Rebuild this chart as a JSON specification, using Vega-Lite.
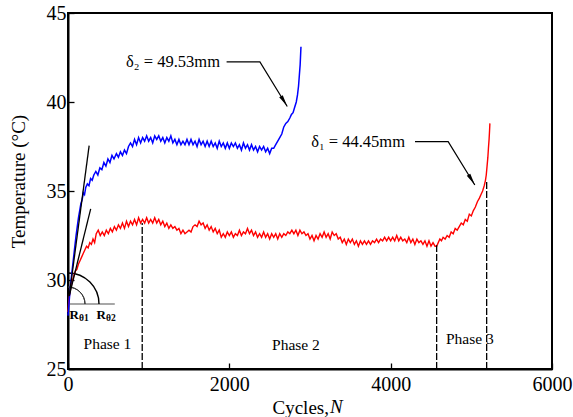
{
  "$schema": "https://vega.github.io/schema/vega-lite/v6.json",
  "width": 484,
  "height": 356,
  "autosize": {"type": "none"},
  "padding": {"left": 68, "top": 13, "right": 21, "bottom": 48},
  "config": {
    "font": "Liberation Serif",
    "view": {"stroke": "black", "strokeWidth": 2},
    "text": {"font": "Liberation Serif"},
    "axis": {
      "grid": false,
      "domainColor": "black",
      "domainWidth": 2,
      "tickColor": "black",
      "tickSize": -6,
      "tickWidth": 1.3,
      "labelFont": "Liberation Serif",
      "labelFontSize": 20,
      "labelColor": "black",
      "labelFlush": false,
      "titleFont": "Liberation Serif",
      "titleFontSize": 19,
      "titleFontWeight": "normal",
      "titleColor": "black"
    }
  },
  "datasets": {
    "blue": [
      {"c":0,"t":28.0},{"c":8,"t":28.4},{"c":16,"t":28.9},{"c":25,"t":29.4},{"c":40,"t":30.1},{"c":55,"t":30.7},{"c":70,"t":31.3},{"c":85,"t":31.9},{"c":100,"t":32.5},{"c":115,"t":33.0},{"c":130,"t":33.5},{"c":145,"t":33.9},{"c":160,"t":34.3},{"c":175,"t":34.5},{"c":190,"t":34.9},{"c":205,"t":34.8},{"c":220,"t":35.2},{"c":240,"t":35.4},{"c":260,"t":35.3},{"c":280,"t":35.7},{"c":300,"t":35.6},{"c":320,"t":35.9},{"c":345,"t":36.1},{"c":370,"t":35.9},{"c":395,"t":36.3},{"c":420,"t":36.2},{"c":445,"t":36.6},{"c":470,"t":36.4},{"c":495,"t":36.8},{"c":520,"t":36.6},{"c":545,"t":37.0},{"c":570,"t":36.8},{"c":600,"t":37.1},{"c":625,"t":36.9},{"c":650,"t":37.2},{"c":675,"t":37.0},{"c":700,"t":37.3},{"c":725,"t":37.1},{"c":750,"t":37.5},{"c":775,"t":37.7},{"c":800,"t":37.5},{"c":825,"t":37.9},{"c":850,"t":37.6},{"c":875,"t":38.0},{"c":900,"t":37.7},{"c":925,"t":38.0},{"c":950,"t":37.8},{"c":975,"t":38.1},{"c":1000,"t":37.8},{"c":1025,"t":38.0},{"c":1050,"t":37.7},{"c":1075,"t":38.1},{"c":1100,"t":37.9},{"c":1125,"t":38.1},{"c":1150,"t":37.8},{"c":1175,"t":38.0},{"c":1200,"t":37.7},{"c":1225,"t":38.0},{"c":1250,"t":37.8},{"c":1275,"t":38.1},{"c":1300,"t":37.7},{"c":1325,"t":37.9},{"c":1350,"t":37.6},{"c":1375,"t":37.9},{"c":1400,"t":37.6},{"c":1425,"t":37.8},{"c":1450,"t":37.6},{"c":1475,"t":37.9},{"c":1500,"t":37.6},{"c":1525,"t":37.9},{"c":1550,"t":37.6},{"c":1575,"t":37.8},{"c":1600,"t":37.5},{"c":1625,"t":37.9},{"c":1650,"t":37.6},{"c":1675,"t":37.8},{"c":1700,"t":37.5},{"c":1725,"t":37.8},{"c":1750,"t":37.5},{"c":1775,"t":37.8},{"c":1800,"t":37.5},{"c":1825,"t":37.7},{"c":1850,"t":37.4},{"c":1875,"t":37.8},{"c":1900,"t":37.5},{"c":1925,"t":37.7},{"c":1950,"t":37.4},{"c":1975,"t":37.7},{"c":2000,"t":37.4},{"c":2025,"t":37.7},{"c":2050,"t":37.5},{"c":2075,"t":37.7},{"c":2100,"t":37.4},{"c":2125,"t":37.6},{"c":2150,"t":37.3},{"c":2175,"t":37.7},{"c":2200,"t":37.4},{"c":2225,"t":37.6},{"c":2250,"t":37.3},{"c":2275,"t":37.6},{"c":2300,"t":37.3},{"c":2325,"t":37.5},{"c":2350,"t":37.2},{"c":2375,"t":37.5},{"c":2400,"t":37.3},{"c":2425,"t":37.5},{"c":2450,"t":37.2},{"c":2475,"t":37.4},{"c":2500,"t":37.1},{"c":2525,"t":37.4},{"c":2550,"t":37.4},{"c":2575,"t":37.6},{"c":2600,"t":37.8},{"c":2625,"t":38.0},{"c":2650,"t":38.2},{"c":2675,"t":38.6},{"c":2700,"t":38.8},{"c":2725,"t":38.9},{"c":2750,"t":39.1},{"c":2770,"t":39.3},{"c":2790,"t":39.4},{"c":2810,"t":39.7},{"c":2830,"t":40.0},{"c":2845,"t":40.4},{"c":2858,"t":40.9},{"c":2868,"t":41.5},{"c":2878,"t":42.1},{"c":2888,"t":43.1}
    ],
    "red": [
      {"c":0,"t":28.2},{"c":10,"t":28.8},{"c":20,"t":29.2},{"c":35,"t":29.6},{"c":50,"t":29.9},{"c":70,"t":30.2},{"c":90,"t":30.5},{"c":110,"t":30.6},{"c":130,"t":30.9},{"c":150,"t":31.1},{"c":170,"t":31.3},{"c":190,"t":31.5},{"c":210,"t":31.7},{"c":230,"t":31.9},{"c":250,"t":31.8},{"c":270,"t":32.1},{"c":290,"t":32.0},{"c":310,"t":32.3},{"c":330,"t":32.1},{"c":350,"t":32.6},{"c":375,"t":32.8},{"c":400,"t":32.5},{"c":425,"t":32.7},{"c":450,"t":32.5},{"c":475,"t":32.8},{"c":500,"t":32.6},{"c":525,"t":32.9},{"c":550,"t":32.7},{"c":575,"t":33.0},{"c":600,"t":32.8},{"c":625,"t":33.1},{"c":650,"t":32.9},{"c":675,"t":33.2},{"c":700,"t":32.9},{"c":725,"t":33.3},{"c":750,"t":33.0},{"c":775,"t":33.3},{"c":800,"t":33.1},{"c":825,"t":33.4},{"c":850,"t":33.1},{"c":875,"t":33.5},{"c":900,"t":33.2},{"c":925,"t":33.4},{"c":950,"t":33.2},{"c":975,"t":33.5},{"c":1000,"t":33.2},{"c":1025,"t":33.4},{"c":1050,"t":33.2},{"c":1075,"t":33.5},{"c":1100,"t":33.2},{"c":1125,"t":33.4},{"c":1150,"t":33.1},{"c":1175,"t":33.3},{"c":1200,"t":33.0},{"c":1225,"t":33.2},{"c":1250,"t":32.9},{"c":1275,"t":33.1},{"c":1300,"t":32.9},{"c":1325,"t":33.0},{"c":1350,"t":32.8},{"c":1375,"t":32.9},{"c":1400,"t":32.6},{"c":1425,"t":32.8},{"c":1450,"t":32.6},{"c":1475,"t":32.7},{"c":1500,"t":32.8},{"c":1525,"t":32.7},{"c":1550,"t":33.0},{"c":1575,"t":33.1},{"c":1600,"t":33.0},{"c":1625,"t":33.3},{"c":1650,"t":33.1},{"c":1675,"t":33.2},{"c":1700,"t":32.9},{"c":1725,"t":33.1},{"c":1750,"t":32.8},{"c":1775,"t":33.0},{"c":1800,"t":32.7},{"c":1825,"t":32.9},{"c":1850,"t":32.6},{"c":1875,"t":32.8},{"c":1900,"t":32.4},{"c":1925,"t":32.6},{"c":1950,"t":32.4},{"c":1975,"t":32.7},{"c":2000,"t":32.5},{"c":2025,"t":32.7},{"c":2050,"t":32.4},{"c":2075,"t":32.6},{"c":2100,"t":32.5},{"c":2125,"t":32.8},{"c":2150,"t":32.5},{"c":2175,"t":32.7},{"c":2200,"t":32.6},{"c":2225,"t":32.9},{"c":2250,"t":32.6},{"c":2275,"t":32.8},{"c":2300,"t":32.5},{"c":2325,"t":32.7},{"c":2350,"t":32.4},{"c":2375,"t":32.6},{"c":2400,"t":32.4},{"c":2425,"t":32.7},{"c":2450,"t":32.4},{"c":2475,"t":32.6},{"c":2500,"t":32.3},{"c":2525,"t":32.6},{"c":2550,"t":32.4},{"c":2575,"t":32.6},{"c":2600,"t":32.3},{"c":2625,"t":32.6},{"c":2650,"t":32.4},{"c":2675,"t":32.6},{"c":2700,"t":32.5},{"c":2725,"t":32.7},{"c":2750,"t":32.6},{"c":2775,"t":32.8},{"c":2800,"t":32.6},{"c":2825,"t":32.8},{"c":2850,"t":32.5},{"c":2875,"t":32.8},{"c":2900,"t":32.6},{"c":2925,"t":32.7},{"c":2950,"t":32.5},{"c":2975,"t":32.6},{"c":3000,"t":32.3},{"c":3025,"t":32.5},{"c":3050,"t":32.2},{"c":3075,"t":32.5},{"c":3100,"t":32.3},{"c":3125,"t":32.6},{"c":3150,"t":32.4},{"c":3175,"t":32.7},{"c":3200,"t":32.4},{"c":3225,"t":32.6},{"c":3250,"t":32.3},{"c":3275,"t":32.7},{"c":3300,"t":32.5},{"c":3325,"t":32.6},{"c":3350,"t":32.3},{"c":3375,"t":32.4},{"c":3400,"t":32.1},{"c":3425,"t":32.3},{"c":3450,"t":32.0},{"c":3475,"t":32.3},{"c":3500,"t":32.1},{"c":3525,"t":32.3},{"c":3550,"t":32.0},{"c":3575,"t":32.2},{"c":3600,"t":31.9},{"c":3625,"t":32.2},{"c":3650,"t":32.0},{"c":3675,"t":32.2},{"c":3700,"t":32.0},{"c":3725,"t":32.2},{"c":3750,"t":32.0},{"c":3775,"t":32.2},{"c":3800,"t":32.1},{"c":3825,"t":32.3},{"c":3850,"t":32.1},{"c":3875,"t":32.3},{"c":3900,"t":32.2},{"c":3925,"t":32.4},{"c":3950,"t":32.2},{"c":3975,"t":32.4},{"c":4000,"t":32.2},{"c":4025,"t":32.4},{"c":4050,"t":32.2},{"c":4075,"t":32.5},{"c":4100,"t":32.2},{"c":4125,"t":32.4},{"c":4150,"t":32.2},{"c":4175,"t":32.3},{"c":4200,"t":32.1},{"c":4225,"t":32.4},{"c":4250,"t":32.1},{"c":4275,"t":32.3},{"c":4300,"t":32.0},{"c":4325,"t":32.3},{"c":4350,"t":32.1},{"c":4375,"t":32.2},{"c":4400,"t":32.0},{"c":4425,"t":32.2},{"c":4450,"t":31.9},{"c":4475,"t":32.2},{"c":4500,"t":31.9},{"c":4525,"t":32.1},{"c":4550,"t":31.9},{"c":4570,"t":31.9},{"c":4590,"t":32.1},{"c":4610,"t":32.3},{"c":4630,"t":32.2},{"c":4650,"t":32.4},{"c":4675,"t":32.3},{"c":4700,"t":32.5},{"c":4725,"t":32.4},{"c":4750,"t":32.7},{"c":4775,"t":32.6},{"c":4800,"t":32.9},{"c":4825,"t":32.8},{"c":4850,"t":33.0},{"c":4875,"t":33.2},{"c":4900,"t":33.1},{"c":4925,"t":33.4},{"c":4950,"t":33.3},{"c":4975,"t":33.7},{"c":5000,"t":33.6},{"c":5025,"t":33.9},{"c":5050,"t":34.1},{"c":5075,"t":34.4},{"c":5100,"t":34.6},{"c":5120,"t":34.8},{"c":5140,"t":35.0},{"c":5160,"t":35.3},{"c":5175,"t":35.6},{"c":5185,"t":35.9},{"c":5195,"t":36.4},{"c":5205,"t":36.9},{"c":5212,"t":37.4},{"c":5220,"t":37.9},{"c":5226,"t":38.4},{"c":5230,"t":38.8}
    ],
    "tangents": [
      {"id":"a","c":15,"t":29.1},{"id":"a","c":262,"t":37.55},
      {"id":"b","c":15,"t":29.1},{"id":"b","c":281,"t":34.0}
    ],
    "baseline": [{"c":0,"t":28.65},{"c":580,"t":28.65}],
    "center": [{"c":0,"t":28.65}],
    "dashes": [
      {"c":920,"t":25,"t2":33.2},
      {"c":4570,"t":25,"t2":31.95},
      {"c":5190,"t":25,"t2":35.5}
    ],
    "leaders": [
      {"id":"d2","c":1966,"t":42.25},{"id":"d2","c":2379,"t":42.25},{"id":"d2","c":2718,"t":39.75},
      {"id":"d1","c":4302,"t":37.77},{"id":"d1","c":4713,"t":37.77},{"id":"d1","c":5043,"t":35.34}
    ],
    "heads": [
      {"c":2679,"t":40.04},
      {"c":5004,"t":35.63}
    ],
    "deltas": [
      {"c":1884,"t":42.25,"label":"δ₂ = 49.53mm"},
      {"c":4178,"t":37.77,"label":"δ₁ = 44.45mm"}
    ],
    "phases": [
      {"c":489,"t":26.4,"label":"Phase 1"},
      {"c":2826,"t":26.35,"label":"Phase 2"},
      {"c":4982,"t":26.7,"label":"Phase 3"}
    ],
    "rlabels": [
      {"c":136,"t":28.05,"sub":"θ1"},
      {"c":471,"t":28.05,"sub":"θ2"}
    ],
    "nlabel": [{"c":3248,"t":22.87,"label":"N"}]
  },
  "encoding": {
    "x": {
      "field": "c", "type": "quantitative",
      "scale": {"domain": [0, 6000], "nice": false, "zero": false},
      "axis": {"values": [0, 2000, 4000, 6000], "format": "d", "title": "Cycles,", "labelPadding": 11, "labelFlush": false,
               "titleX": 204, "titleY": 38, "titleAlign": "left", "titleBaseline": "middle", "titleAnchor": null}
    },
    "y": {
      "field": "t", "type": "quantitative",
      "scale": {"domain": [25, 45], "nice": false, "zero": false},
      "axis": {"values": [25, 30, 35, 40, 45], "title": "Temperature (°C)", "labelPadding": 8, "labelFlush": false,
               "titleX": -50, "titleY": 168, "titleAlign": "center", "titleBaseline": "middle", "titleAnchor": null}
    }
  },
  "layer": [
    {"data": {"name": "baseline"}, "mark": {"type": "line", "color": "#8a8a8a", "strokeWidth": 1.5}},
    {"data": {"name": "center"}, "mark": {"type": "arc", "theta": 0, "theta2": 1.5708, "outerRadius": 17, "innerRadius": 17, "fillOpacity": 0, "stroke": "#333333", "strokeWidth": 1}},
    {"data": {"name": "center"}, "mark": {"type": "arc", "theta": 0, "theta2": 1.5708, "outerRadius": 31, "innerRadius": 31, "fillOpacity": 0, "stroke": "black", "strokeWidth": 1.4}},
    {"data": {"name": "red"}, "mark": {"type": "line", "color": "#ff0000", "strokeWidth": 1.4}},
    {"data": {"name": "blue"}, "mark": {"type": "line", "color": "#0000ff", "strokeWidth": 1.5}},
    {"data": {"name": "tangents"}, "mark": {"type": "line", "color": "black", "strokeWidth": 1.3}, "encoding": {"detail": {"field": "id"}}},
    {"data": {"name": "dashes"}, "mark": {"type": "rule", "color": "black", "strokeWidth": 1.3, "strokeDash": [7, 2]}, "encoding": {"y2": {"field": "t2"}}},
    {"data": {"name": "leaders"}, "mark": {"type": "line", "color": "black", "strokeWidth": 1.2}, "encoding": {"detail": {"field": "id"}}},
    {"data": {"name": "heads"}, "mark": {"type": "point", "shape": "M0,-1L0.35,1L-0.35,1Z", "size": 140, "angle": 148, "filled": true, "color": "black", "opacity": 1}},
    {"data": {"name": "deltas"}, "mark": {"type": "text", "align": "right", "baseline": "middle", "fontSize": 16.5, "color": "black"}, "encoding": {"text": {"field": "label"}}},
    {"data": {"name": "phases"}, "mark": {"type": "text", "align": "center", "baseline": "middle", "fontSize": 15.5, "color": "black"}, "encoding": {"text": {"field": "label"}}},
    {"data": {"name": "rlabels"}, "mark": {"type": "text", "align": "right", "baseline": "middle", "fontSize": 13, "fontWeight": "bold", "color": "black"}, "encoding": {"text": {"value": "R"}}},
    {"data": {"name": "rlabels"}, "mark": {"type": "text", "align": "left", "baseline": "middle", "fontSize": 9.5, "fontWeight": "bold", "color": "black", "dy": 3}, "encoding": {"text": {"field": "sub"}}},
    {"data": {"name": "nlabel"}, "mark": {"type": "text", "align": "left", "baseline": "middle", "fontSize": 19, "fontStyle": "italic", "color": "black"}, "encoding": {"text": {"field": "label"}}}
  ]
}
